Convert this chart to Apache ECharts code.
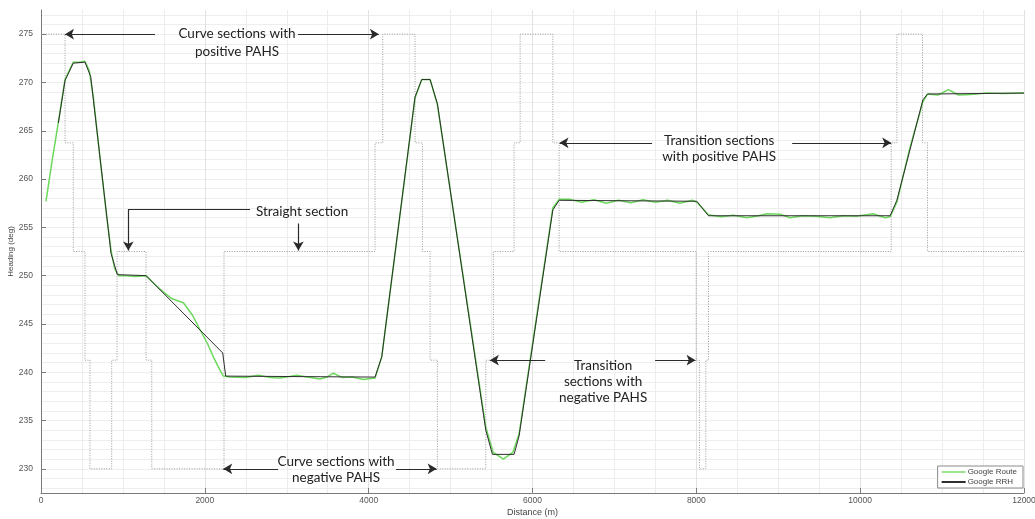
<!DOCTYPE html>
<html>
<head>
<meta charset="utf-8">
<script src="https://cdn.jsdelivr.net/npm/echarts@6/dist/echarts.min.js"></script>
<style>
html,body{margin:0;padding:0;background:#fff;}
#chart{width:1035px;height:519px;}
</style>
</head>
<body>
<div id="chart"></div>
<script>
// ---------- data ----------
const pahsDist = [0, 293, 394, 537, 598, 863, 928, 1282, 1352, 2234, 4078, 4172, 4566, 4656, 4750, 4839, 5430, 5523, 5775, 5849, 6248, 6325, 7998, 8038, 8116, 8148, 10379, 10448, 10761, 10822, 12000];
const pahsLevel = [275, 263.75, 252.5, 241.25, 230, 241.25, 252.5, 241.25, 230, 252.5, 263.75, 275, 263.75, 252.5, 241.25, 230, 241.25, 252.5, 263.75, 275, 263.75, 252.5, 241.25, 230, 241.25, 252.5, 263.75, 275, 263.75, 252.5, 252.5];

const rrhDist = [212, 293, 394, 537, 607, 855, 932, 1282, 2218, 2255, 4078, 4160, 4566, 4648, 4750, 4839, 5430, 5511, 5775, 5836, 6248, 6325, 8006, 8148, 10366, 10448, 10766, 10822, 12000];
const rrhHeading = [265.8, 270.2, 272.0, 272.1, 270.6, 252.3, 250.1, 250.0, 242.0, 239.6, 239.5, 241.6, 268.5, 270.3, 270.3, 267.8, 234.0, 231.5, 231.5, 233.4, 256.8, 257.8, 257.7, 256.2, 256.2, 257.8, 268.2, 268.8, 268.9];

const routeDist = [61, 130, 212, 293, 394, 470, 537, 590, 640, 720, 800, 855, 900, 950, 1050, 1150, 1282, 1400, 1494, 1600, 1738, 1850, 1942, 2030, 2104, 2180, 2226, 2300, 2500, 2653, 2800, 2918, 3000, 3122, 3250, 3407, 3490, 3569, 3680, 3800, 3935, 4078, 4160, 4566, 4648, 4750, 4839, 5430, 5520, 5645, 5760, 5836, 6248, 6325, 6450, 6600, 6750, 6900, 7050, 7200, 7350, 7500, 7650, 7800, 7950, 8006, 8148, 8300, 8450, 8616, 8760, 8860, 9023, 9145, 9300, 9450, 9634, 9800, 9950, 10159, 10305, 10366, 10448, 10600, 10766, 10822, 10950, 11078, 11200, 11350, 11550, 11750, 12000];
const routeHeading = [257.7, 261.6, 265.9, 270.3, 272.1, 272.1, 272.2, 271.2, 268.4, 262.2, 256.3, 252.6, 250.7, 250.0, 250.0, 249.9, 250.0, 249.0, 248.3, 247.6, 247.2, 245.9, 244.4, 243.0, 241.6, 240.3, 239.6, 239.5, 239.45, 239.7, 239.45, 239.4, 239.5, 239.7, 239.5, 239.3, 239.5, 239.9, 239.45, 239.5, 239.25, 239.4, 241.6, 268.4, 270.3, 270.3, 267.7, 234.3, 231.7, 231.0, 231.7, 233.6, 257.0, 257.9, 257.9, 257.6, 257.85, 257.5, 257.8, 257.55, 257.85, 257.6, 257.8, 257.5, 257.8, 257.6, 256.3, 256.1, 256.25, 256.0, 256.2, 256.4, 256.35, 256.0, 256.2, 256.15, 256.0, 256.2, 256.15, 256.4, 256.0, 256.1, 257.6, 263.0, 268.0, 268.8, 268.7, 269.25, 268.7, 268.75, 268.9, 268.85, 268.9];

const xTicks = [0, 2000, 4000, 6000, 8000, 10000, 12000];
const yTicks = [230, 235, 240, 245, 250, 255, 260, 265, 270, 275];
const yMinorTicks = [];
for (let v = 228; v <= 277; v++) yMinorTicks.push(v);

// ---------- annotations (data coordinates) ----------
const annoArrows = [
  [[1392, 275], [293, 275], true],
  [[3138, 275], [4125, 275], true],
  [[2552, 256.9], [1066, 256.9], false],
  [[1066, 256.9], [1066, 252.6], true],
  [[3142, 255.4], [3142, 252.6], true],
  [[7460, 263.75], [6330, 263.75], true],
  [[9170, 263.75], [10379, 263.75], true],
  [[6154, 241.25], [5480, 241.25], true],
  [[7497, 241.25], [7990, 241.25], true],
  [[2894, 230], [2225, 230], true],
  [[4335, 230], [4830, 230], true]
];
const annoTexts = [
  ['Curve sections with\npositive PAHS', 2393, 274.07, 18],
  ['Straight section', 3187, 256.6, 16],
  ['Transition sections\nwith positive PAHS', 8279, 263.1, 16],
  ['Transition\nsections with\nnegative PAHS', 6862, 239.0, 16],
  ['Curve sections with\nnegative PAHS', 3602, 229.9, 16]
];

const zip = (a, b) => a.map((v, i) => [v, b[i]]);

const chart = echarts.init(document.getElementById('chart'), null, {renderer: 'canvas'});

const axisFont = 'Liberation Sans';
const option = {
  animation: false,
  backgroundColor: '#fff',
  grid: {left: 41, right: 11, top: 10, bottom: 26, containLabel: false, outerBoundsMode: 'none'},
  legend: {
    data: ['Google Route', 'Google RRH'],
    orient: 'vertical',
    right: 12,
    bottom: 31,
    icon: 'rect',
    itemWidth: 24,
    itemHeight: 2,
    itemGap: 2,
    padding: [2, 6, 2, 4],
    borderColor: '#8a8a8a',
    borderWidth: 1,
    backgroundColor: '#fff',
    textStyle: {fontSize: 8, color: '#444', fontFamily: axisFont, padding: [0, 0, 0, -3]}
  },
  xAxis: {
    type: 'value',
    min: 0, max: 12000, interval: 2000,
    name: 'Distance (m)',
    nameLocation: 'middle',
    nameGap: 15,
    nameMoveOverlap: false,
    nameTextStyle: {fontSize: 9, color: '#444', fontFamily: axisFont},
    axisLine: {show: true, lineStyle: {color: '#7a7a7a', width: 1}},
    axisTick: {show: true, inside: true, length: 5, lineStyle: {color: '#7a7a7a'}},
    axisLabel: {fontSize: 8.5, color: '#555', margin: 3, fontFamily: axisFont, formatter: v => String(v)},
    splitLine: {show: true, lineStyle: {color: '#e2e2e2', width: 1}},
    minorTick: {show: false, splitNumber: 4},
    minorSplitLine: {show: true, lineStyle: {color: '#ececec', width: 1}}
  },
  yAxis: [
    {
      type: 'value',
      min: 227.5, max: 277.5,
      name: 'Heading (deg)',
      nameLocation: 'middle',
      nameGap: 26,
      nameMoveOverlap: false,
      nameTextStyle: {fontSize: 8, color: '#444', fontFamily: axisFont},
      axisLine: {show: true, lineStyle: {color: '#7a7a7a', width: 1}},
      axisTick: {show: true, inside: true, length: 5, lineStyle: {color: '#7a7a7a'}, customValues: yTicks},
      axisLabel: {fontSize: 8.5, color: '#555', margin: 8, fontFamily: axisFont, customValues: yTicks, formatter: v => String(v)},
      splitLine: {show: true, lineStyle: {color: '#e2e2e2', width: 1}}
    },
    {
      type: 'value',
      min: 227.5, max: 277.5,
      position: 'left',
      axisLine: {show: false},
      axisTick: {show: false, customValues: yMinorTicks},
      axisLabel: {show: false, customValues: yMinorTicks},
      splitLine: {show: true, lineStyle: {color: '#eeeeee', width: 1}}
    }
  ],
  series: [
    {
      name: 'PAHS',
      type: 'line',
      step: 'end',
      showSymbol: false,
      silent: true,
      z: 1,
      data: zip(pahsDist, pahsLevel),
      lineStyle: {color: '#9a9a9a', width: 1, type: [1, 1.5]},
      markLine: {
        silent: true,
        animation: false,
        symbolSize: [8, 9],
        lineStyle: {color: '#2a2a2a', width: 1.2, type: 'solid'},
        label: {show: false},
        emphasis: {disabled: true},
        data: annoArrows.map(a => [
          {coord: a[0], symbol: 'none'},
          {coord: a[1], symbol: a[2] ? 'arrow' : 'none'}
        ])
      },
      markPoint: {
        silent: true,
        animation: false,
        symbol: 'circle',
        symbolSize: 0,
        itemStyle: {color: 'rgba(0,0,0,0)'},
        data: annoTexts.map(t => ({
          coord: [t[1], t[2]],
          label: {
            show: true,
            position: 'inside',
            formatter: t[0],
            color: '#222',
            fontSize: 13.5,
            lineHeight: t[3],
            fontFamily: 'Lato',
            align: 'center',
            verticalAlign: 'middle'
          }
        }))
      }
    },
    {
      name: 'Google Route',
      type: 'line',
      showSymbol: false,
      z: 2,
      data: zip(routeDist, routeHeading),
      lineStyle: {color: '#6cd85c', width: 1.5},
      itemStyle: {color: '#9be58f'}
    },
    {
      name: 'Google RRH',
      type: 'line',
      showSymbol: false,
      z: 3,
      data: zip(rrhDist, rrhHeading),
      lineStyle: {color: '#2e2e2e', width: 1},
      itemStyle: {color: '#2e2e2e'}
    }
  ]
};
chart.setOption(option);
</script>
</body>
</html>
